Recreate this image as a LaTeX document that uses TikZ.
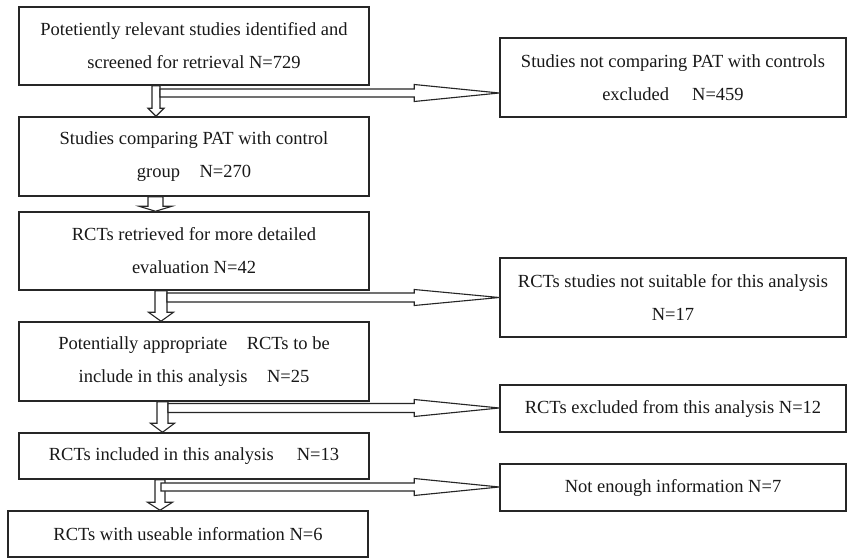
\documentclass[tikz,border=0pt]{standalone}
\usepackage{fontspec}
\setmainfont{Liberation Serif}
\usetikzlibrary{calc}
\tikzset{
  box/.style={draw=black!85, line width=1.5pt, rectangle, inner sep=0pt, align=center,
    text=black!90, font=\fontsize{18.5}{33}\selectfont},
  blockarrow/.style={draw=black!85, line width=1.1pt, fill=white, line join=miter},
}
% vertical block arrow: #1 from node, #2 to node, #3 x centre, #4 shaft half, #5 head half, #6 head length
\newcommand\varr[6]{%
  \draw[blockarrow] let \p1=(#1.south), \p2=(#2.north) in
    ({(#3-#4)*1pt},\y1) -- ({(#3-#4)*1pt},\y2+#6pt) -- ({(#3-#5)*1pt},\y2+#6pt)
    -- (#3pt,\y2) -- ({(#3+#5)*1pt},\y2+#6pt) -- ({(#3+#4)*1pt},\y2+#6pt)
    -- ({(#3+#4)*1pt},\y1) -- cycle;}
% horizontal block arrow: #1 to node, #2 start x, #3 y centre, #4 shaft half, #5 head half, #6 head length
\newcommand\harr[6]{%
  \draw[blockarrow] let \p2=(#1.west) in
    (#2pt,{-(#3-#4)*1pt}) -- (\x2-#6pt,{-(#3-#4)*1pt}) -- (\x2-#6pt,{-(#3-#5)*1pt})
    -- (\x2,{-#3*1pt}) -- (\x2-#6pt,{-(#3+#5)*1pt}) -- (\x2-#6pt,{-(#3+#4)*1pt})
    -- (#2pt,{-(#3+#4)*1pt}) -- cycle;}
\begin{document}
\begin{tikzpicture}[x=1pt,y=-1pt]
\useasboundingbox[fill=white] (0,0) rectangle (847,559);

\node[box, minimum width=350pt, minimum height=78pt] (b1) at (194,46)
  {Potetiently relevant studies identified and\\screened for retrieval N=729};
\node[box, minimum width=350pt, minimum height=79pt] (b2) at (194,156.5)
  {Studies comparing PAT with control\\group\hspace{0.8em} N=270};
\node[box, minimum width=350pt, minimum height=78pt] (b3) at (194,251)
  {RCTs retrieved for more detailed\\evaluation N=42};
\node[box, minimum width=350pt, minimum height=79pt] (b4) at (194,361.5)
  {Potentially appropriate\hspace{0.8em} RCTs to be\\include in this analysis\hspace{0.8em} N=25};
\node[box, minimum width=350pt, minimum height=46pt] (b5) at (194,456)
  {RCTs included in this analysis\hspace{1em} N=13};
\node[box, minimum width=360pt, minimum height=46pt] (b6) at (188,534)
  {RCTs with useable information N=6};

\node[box, minimum width=346pt, minimum height=79pt] (r1) at (673,77.5)
  {Studies not comparing PAT with controls\\excluded\hspace{1em} N=459};
\node[box, minimum width=346pt, minimum height=79pt] (r2) at (673,297.5)
  {RCTs studies not suitable for this analysis\\N=17};
\node[box, minimum width=346pt, minimum height=47pt] (r3) at (673,408.5)
  {RCTs excluded from this analysis N=12};
\node[box, minimum width=346pt, minimum height=47pt] (r4) at (673,487.5)
  {Not enough information N=7};

\varr{b1}{b2}{156}{4}{8}{8}
\varr{b2}{b3}{155.5}{7.5}{16.5}{5}
\varr{b3}{b4}{161}{6}{12.5}{9}
\varr{b4}{b5}{162.5}{5.5}{12}{9}
\varr{b5}{b6}{160}{5}{12.5}{8}

\harr{r1}{160}{93}{4}{8.5}{85}
\harr{r2}{167}{297.5}{4.5}{8}{85}
\harr{r3}{168}{408}{4.5}{8.5}{85}
\harr{r4}{161}{487}{4}{8.5}{85}
\end{tikzpicture}
\end{document}
